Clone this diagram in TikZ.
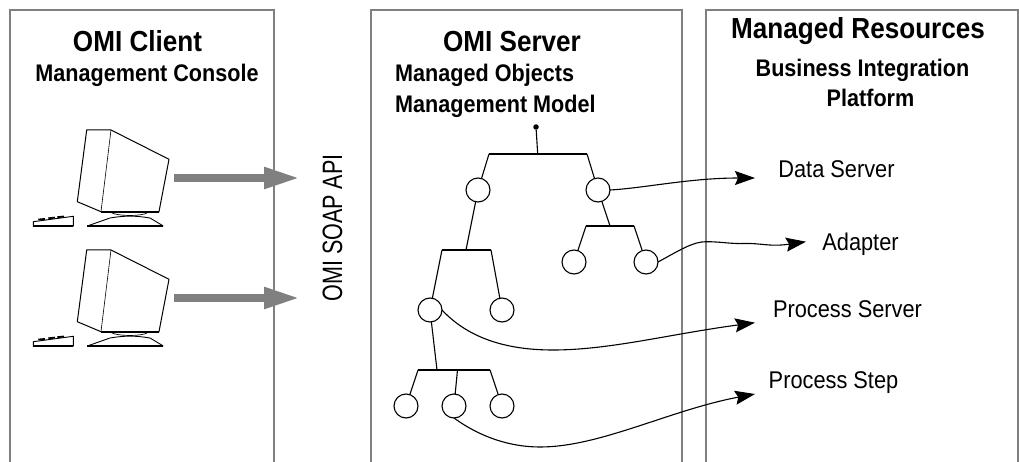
\documentclass[tikz,border=0pt]{standalone}
\usepackage{fontspec}
\usetikzlibrary{arrows.meta, positioning}
\setmainfont{Liberation Sans}
\newfontfamily\boxfont[FakeStretch=0.9]{Liberation Sans}
\newfontfamily\apifont[FakeStretch=0.77]{Liberation Sans}

\begin{document}
\begin{tikzpicture}[
        x=1pt, y=-1pt,
        title/.style={anchor=base, font=\boxfont\bfseries\fontsize{29}{30}\selectfont},
        subtitle/.style={anchor=base, font=\boxfont\bfseries\fontsize{24}{25}\selectfont},
        item/.style={anchor=base, font=\boxfont\fontsize{24.2}{25}\selectfont},
        panel/.style={draw=black!50, line width=2pt},
        branch/.style={circle, draw, fill=white, line width=1.1pt, minimum size=24pt, inner sep=0pt, outer sep=0pt},
        bar/.style={line width=2.2pt},
        link/.style={line width=1.1pt},
        feed/.style={line width=1.1pt, -{Stealth[length=20pt, width=14pt, inset=3pt]}},
        bigarrow/.style={black!50, line width=8pt, -{Triangle[length=36pt, width=20pt]}},
        pics/console/.style={code={
            % Monitor
            \draw[line width=1pt, line join=round] (86.7,30) -- (111,30) -- (169,59.3) -- (159,111.7) -- (101,111.7) -- (77.3,101.7) -- cycle;
            \draw[line width=0.6pt] (111,30) -- (101,111.7);
            \draw[line width=1.8pt] (101,111.7) -- (159,111.7);
            \draw[line width=0.7pt] (111,112.5) .. controls (118,116.5) and (142,116.5) .. (148,112.5);
            % Foot
            \draw[line width=0.9pt] (87.3,126) -- (110,118) .. controls (125,115.5) and (135,115.5) .. (150,118) -- (163.3,126);
            \draw[line width=1.5pt] (87.3,126) -- (163.3,126);
            % Keyboard
            \draw[line width=0.9pt] (33.3,126) -- (33.3,121.7) -- (73.3,116.3) -- (73.3,126) -- cycle;
            \draw[line width=1.5pt] (33.3,126) -- (73.3,126);
            \draw[line width=1.8pt] (38.3,119.6) -- (45,118.9) (48.3,118.3) -- (55,117.6) (57.3,117.2) -- (64,116.5);
        }}
      ]

      % Panels
      \useasboundingbox (0,0) rectangle (1019,462);
      \draw[panel] (10,462) -- (10,10.5) -- (274,10.5) -- (274,462);
      \draw[panel] (370.5,462) -- (370.5,10.5) -- (682.3,10.5) -- (682.3,462);
      \draw[panel] (705.8,462) -- (705.8,10.5) -- (1018.4,10.5) -- (1018.4,462);

      % Headings
      \node[title] (clienttitle) at (137.5,51.5) {OMI Client};
      \node[subtitle] (clientsub) at (147,81.5) {Management Console};
      \node[title] (servertitle) at (512,51.5) {OMI Server};
      \node[subtitle, anchor=base west] (objects) at (391.7,82) {Managed Objects};
      \node[subtitle, anchor=base west] (model) at (391.7,113) {Management Model};
      \node[title] (resourcetitle) at (858,39) {Managed Resources};
      \node[subtitle] (bizline) at (862.5,77) {Business Integration};
      \node[subtitle] (platform) at (870.5,107) {Platform};

      % Consoles
      \pic at (0,100) {console};
      \pic at (0,220) {console};
      \coordinate (feedA) at (174,178);
      \coordinate (feedB) at (174,298);
      \coordinate (apiA) at (300,178);
      \coordinate (apiB) at (300,298);
      \draw[bigarrow] (feedA) -- (apiA);
      \draw[bigarrow] (feedB) -- (apiB);
      \node[anchor=base, rotate=90, font=\apifont\fontsize{28}{29}\selectfont] (api) at (342,228) {OMI SOAP API};

      % Tree nodes
      \node[circle, fill, inner sep=0pt, minimum size=5.5pt] (root) at (536,127) {};
      \node[branch] (left) at (478,190) {};
      \node[branch, right=96pt of left] (right) {};
      \node[branch] (rleafA) at (574,262) {};
      \node[branch, right=48pt of rleafA] (rleafB) {};
      \node[branch] (mid) at (430,310) {};
      \node[branch, right=48pt of mid] (midleaf) {};
      \node[branch] (leafA) at (406,406) {};
      \node[branch, right=24pt of leafA] (leafB) {};
      \node[branch, right=24pt of leafB] (leafC) {};

      % Bars
      \coordinate (topL) at (489,154);
      \coordinate (topM) at (537.7,154);
      \coordinate (topR) at (587,154);
      \coordinate (lowL) at (442,250);
      \coordinate (lowM) at (466,250);
      \coordinate (lowR) at (491,250);
      \coordinate (sideL) at (586,226);
      \coordinate (sideM) at (610,226);
      \coordinate (sideR) at (634,226);
      \coordinate (baseL) at (418,370);
      \coordinate (baseM) at (437,370);
      \coordinate (baseN) at (457.5,370);
      \coordinate (baseR) at (490,370);
      \draw[bar] (topL) -- (topR);
      \draw[bar] (lowL) -- (lowR);
      \draw[bar] (sideL) -- (sideR);
      \draw[bar] (baseL) -- (baseR);

      % Tree links
      \draw[link] (root) -- (topM);
      \draw[link] (topL) -- (left);
      \draw[link] (topR) -- (right);
      \draw[link] (left) -- (lowM);
      \draw[link] (right) -- (sideM);
      \draw[link] (sideL) -- (rleafA);
      \draw[link] (sideR) -- (rleafB);
      \draw[link] (lowL) -- (mid);
      \draw[link] (lowR) -- (midleaf);
      \draw[link] (mid) -- (baseM);
      \draw[link] (baseL) -- (leafA);
      \draw[link] (baseN) -- (leafB);
      \draw[link] (baseR) -- (leafC);

      % Resources
      \node[item] (dataserver) at (836.5,178) {Data Server};
      \node[item] (adapter) at (860.5,251) {Adapter};
      \node[item] (procserver) at (847.5,317) {Process Server};
      \node[item] (procstep) at (833.5,388) {Process Step};
      \coordinate (dataend) at (755,178);
      \coordinate (adapterend) at (806,241.7);
      \coordinate (serverend) at (755,322.7);
      \coordinate (stepend) at (755,394);

      % Arrows
      \draw[feed] (right.east) .. controls (645,188) and (690,178) .. (dataend);
      \draw[feed] (rleafB.east) .. controls (680,250) and (693,241.7) .. (706,241.7) .. controls (722,241.7) and (730,244) .. (745,243.5) .. controls (760,243) and (770,247) .. (adapterend);
      \draw[feed] (mid.east) .. controls (470,340) and (510,350) .. (553,350) .. controls (610,350) and (670,334) .. (serverend);
      \draw[feed] (leafB.south) .. controls (480,437) and (510,447) .. (540,447) .. controls (600,447) and (670,410) .. (stepend);

    \end{tikzpicture}
\end{document}
